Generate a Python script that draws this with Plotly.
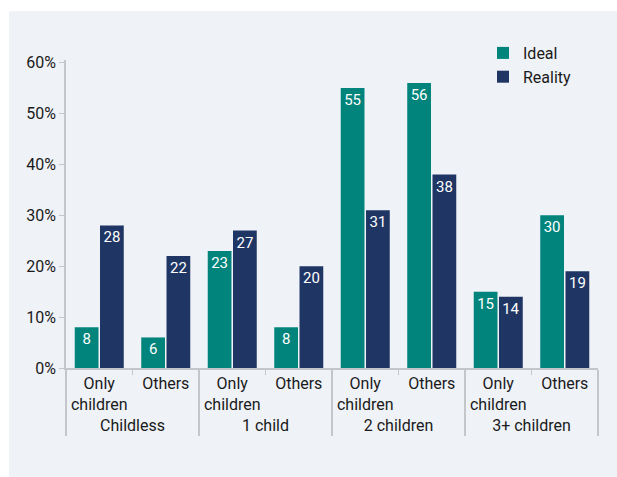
import plotly.graph_objects as go

groups = ["Childless", "Childless", "1 child", "1 child",
          "2 children", "2 children", "3+ children", "3+ children"]
subgroups = ["Only<br>children", "Others"] * 4
ideal = [8, 6, 23, 8, 55, 56, 15, 30]
reality = [28, 22, 27, 20, 31, 38, 14, 19]
y_ticks = [0, 10, 20, 30, 40, 50, 60]
y_ticktext = [f"{v}%" for v in y_ticks]

FONT = "Roboto, sans-serif"
TEAL = "#00847C"
NAVY = "#1F3665"
PANEL = "#EFF2F7"

fig = go.Figure()
for name, vals, col in [("Ideal", ideal, TEAL), ("Reality", reality, NAVY)]:
    fig.add_trace(go.Bar(
        name=name, x=[groups, subgroups], y=vals, marker_color=col,
        marker_line_width=0,
        text=[str(v) for v in vals], textposition="inside",
        insidetextanchor="end", textangle=0, constraintext="none",
        textfont=dict(color="white", size=15, family=FONT),
    ))

W, H = 617, 477
L, T = 66, 60
R, B = W - 598, H - 368
pw, ph = W - L - R, H - T - B

fig.update_layout(
    width=W, height=H,
    margin=dict(l=L, r=R, t=T, b=B, autoexpand=False),
    paper_bgcolor="white", plot_bgcolor=PANEL,
    barmode="group", bargap=0.24, bargroupgap=0.06,
    font=dict(family=FONT, size=16, color="#1a1a1a"),
    showlegend=True,
    legend=dict(x=(483 - L) / pw, y=(H - B - 36) / ph, xanchor="left", yanchor="top",
                bgcolor="rgba(0,0,0,0)", font=dict(size=16, family=FONT),
                itemwidth=30, tracegroupgap=4),
    shapes=[dict(type="rect", xref="paper", yref="paper", layer="below",
                 x0=(9 - L) / pw, x1=(W + 2 - L) / pw,
                 y0=-(B + 2) / ph, y1=(H - B - 11) / ph,
                 fillcolor=PANEL, line_width=0)],
)
fig.update_yaxes(range=[0, 60.5], tickvals=y_ticks, ticktext=y_ticktext,
                 showgrid=False, zeroline=False, showline=True,
                 linecolor="#C4C6C9", linewidth=1.5, ticks="outside",
                 ticklen=5, tickcolor="#C4C6C9", tickfont=dict(size=16),
                 automargin=False)
fig.update_xaxes(showgrid=False, showline=True, linecolor="#C4C6C9",
                 linewidth=1.5, ticks="outside", ticklen=5, tickangle=0,
                 tickcolor="#C4C6C9", showdividers=True,
                 dividercolor="#C4C6C9", dividerwidth=1.5,
                 tickfont=dict(size=16), automargin=False)

fig.write_html("out.html",
               config={"displayModeBar": False},
               post_script="document.body.style.margin='0';"
                           "document.documentElement.style.margin='0';"
                           f"document.body.style.background='{PANEL}';"
                           f"document.documentElement.style.background='{PANEL}';")
